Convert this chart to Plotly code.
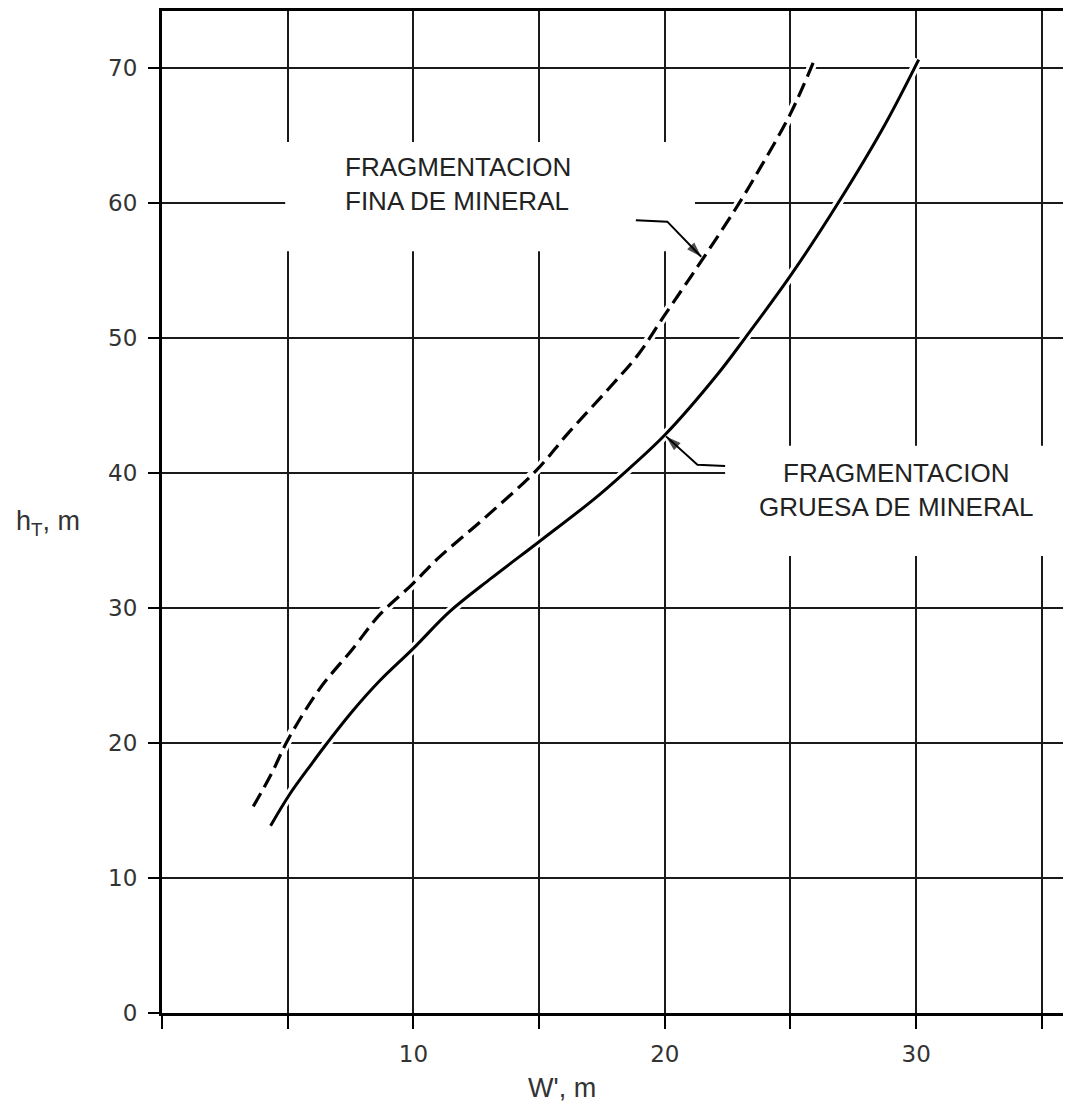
import plotly.graph_objects as go

# ---- data ----
fina_x = [3.63, 4.35, 5.0, 6.27, 7.6, 8.66, 9.93, 11.0, 12.8, 14.9, 16.14, 17.8, 18.96, 20.0, 21.1, 22.8, 23.8, 25.0, 26.0]
fina_y = [15.3, 17.7, 20.2, 24.0, 27.0, 29.5, 31.7, 33.7, 36.6, 40.2, 42.9, 46.3, 48.8, 51.7, 54.7, 59.5, 62.6, 66.6, 70.8]

gruesa_x = [4.32, 5.08, 5.93, 6.45, 7.6, 8.66, 10.0, 11.43, 13.1, 15.0, 17.15, 18.27, 20.0, 22.1, 23.2, 25.0, 26.9, 28.76, 30.1]
gruesa_y = [13.87, 16.2, 18.4, 19.7, 22.4, 24.6, 27.0, 29.7, 32.2, 34.9, 38.0, 39.8, 42.8, 47.3, 50.0, 54.6, 60.0, 65.8, 70.6]

x_ticks = [0, 5, 10, 15, 20, 25, 30, 35]
x_ticktext = ["", "", "10", "", "20", "", "30", ""]
y_ticks = [0, 10, 20, 30, 40, 50, 60, 70]
y_ticktext = ["0", "10", "20", "30", "40", "50", "60", "70"]

label_fina = "FRAGMENTACION<br>FINA DE MINERAL"
label_gruesa = "FRAGMENTACION<br>GRUESA DE MINERAL"
y_title = "h<sub>T</sub>, m"
x_title = "W', m"

# label positions / leader lines
fina_text_pos = (7.2, 61.4)
fina_box = (4.9, 56.4, 21.2, 64.5)
fina_leader_x = [18.85, 20.1, 21.45]
fina_leader_y = [58.7, 58.6, 56.0]
gruesa_text_pos = (29.2, 38.7)
gruesa_box = (22.4, 33.85, 35.84, 42.0)
gruesa_leader_x = [22.4, 21.3, 20.05]
gruesa_leader_y = [40.5, 40.6, 42.7]

X_RANGE = [0, 35.84]
Y_RANGE = [0, 74.2]

fig = go.Figure()

# white halo under curves (gridlines are interrupted around the curves)
for xs, ys in [(fina_x, fina_y), (gruesa_x, gruesa_y)]:
    fig.add_trace(go.Scatter(x=xs, y=ys, mode="lines", line=dict(color="white", width=9, shape="spline"),
                             hoverinfo="skip", showlegend=False))

fig.add_trace(go.Scatter(x=fina_x, y=fina_y, mode="lines", name="fina",
                         line=dict(color="black", width=3.2, dash="15px,7px", shape="spline", smoothing=1.0),
                         showlegend=False))
fig.add_trace(go.Scatter(x=gruesa_x, y=gruesa_y, mode="lines", name="gruesa",
                         line=dict(color="black", width=3, shape="spline", smoothing=1.0),
                         showlegend=False))

# white boxes behind the labels (break the grid)
for (x0, y0, x1, y1) in [fina_box, gruesa_box]:
    fig.add_shape(type="rect", x0=x0, y0=y0, x1=x1, y1=y1, xref="x", yref="y",
                  fillcolor="white", line=dict(width=0), layer="between")

font_lbl = dict(family="Liberation Sans, Arial, sans-serif", size=26, color="#222")
fig.add_annotation(x=fina_text_pos[0], y=fina_text_pos[1], text=label_fina, showarrow=False,
                   font=font_lbl, align="left", xanchor="left", yanchor="middle")
fig.add_annotation(x=gruesa_text_pos[0], y=gruesa_text_pos[1], text=label_gruesa, showarrow=False,
                   font=font_lbl, align="center", xanchor="center", yanchor="middle")

# leader lines with arrowheads
for lx, ly in [(fina_leader_x, fina_leader_y), (gruesa_leader_x, gruesa_leader_y)]:
    fig.add_trace(go.Scatter(x=lx, y=ly, mode="lines+markers",
                             line=dict(color="black", width=2),
                             marker=dict(symbol="arrow", size=[0, 0, 16], color="black",
                                         angleref="previous", line=dict(width=0)),
                             hoverinfo="skip", showlegend=False))

tick_font = dict(family="DejaVu Sans, sans-serif", size=23, color="#333")
fig.update_xaxes(range=X_RANGE, tickmode="array", tickvals=x_ticks, ticktext=x_ticktext,
                 showgrid=True, gridcolor="#1a1a1a", gridwidth=1.6,
                 showline=True, linecolor="black", linewidth=3, mirror=True,
                 ticks="outside", ticklen=13, tickwidth=1.6, tickcolor="black",
                 tickfont=tick_font, ticklabelstandoff=5, zeroline=False)
fig.update_yaxes(range=Y_RANGE, tickmode="array", tickvals=y_ticks, ticktext=y_ticktext,
                 showgrid=True, gridcolor="#1a1a1a", gridwidth=1.6,
                 showline=True, linecolor="black", linewidth=3, mirror=False,
                 ticks="outside", ticklen=11, tickwidth=1.6, tickcolor="black",
                 tickfont=tick_font, ticklabelstandoff=6, zeroline=False)

title_font = dict(family="Liberation Sans, Arial, sans-serif", size=27, color="#333")
fig.add_annotation(x=0.0, xref="paper", xanchor="right", xshift=-80, y=36.3, yref="y",
                   text=y_title, showarrow=False, font=title_font)
fig.add_annotation(x=15.9, xref="x", xanchor="center", y=0, yref="paper", yanchor="top",
                   yshift=-58, text=x_title, showarrow=False, font=title_font)

# page body has an 8px margin: size the figure so it fits the 1071x1112 window without scrollbars
fig.update_layout(width=1055, height=1096, margin=dict(l=154, r=0, t=1, b=91),
                  plot_bgcolor="white", paper_bgcolor="white", showlegend=False)

fig.write_html("out.html")
